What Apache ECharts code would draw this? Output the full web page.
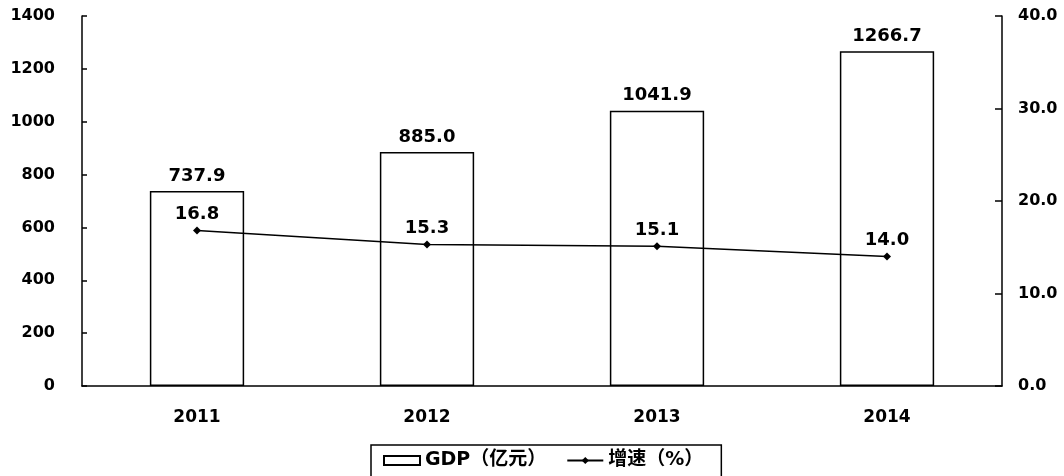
<!DOCTYPE html>
<html>
<head>
<meta charset="utf-8">
<script src="https://cdn.jsdelivr.net/npm/echarts@6/dist/echarts.min.js"></script>
<style>html,body{margin:0;padding:0;background:#fff}#c{width:1064px;height:476px}</style>
</head>
<body>
<div id="c"></div>
<script>
var categories = ['2011', '2012', '2013', '2014'];
var gdpValues = [737.9, 885.0, 1041.9, 1266.7];
var growthValues = [16.8, 15.3, 15.1, 14.0];
var seriesNames = ['GDP（亿元）', '增速（%）'];

var FONT = '"DejaVu Sans", "Noto Sans CJK SC", sans-serif';
var chart = echarts.init(document.getElementById('c'), null, {renderer: 'canvas'});
chart.setOption({
  animation: false,
  backgroundColor: '#fff',
  grid: {left: 82, right: 62, top: 16, bottom: 90, containLabel: false},
  legend: {
    data: [{name: seriesNames[0], icon: 'rect'}, {name: seriesNames[1]}],
    left: 371, top: 445,
    padding: [6, 18, 10, 12],
    itemGap: 20,
    itemWidth: 36, itemHeight: 9,
    borderColor: '#000', borderWidth: 1.5,
    textStyle: {fontFamily: FONT, fontWeight: 'bold', fontSize: 19, color: '#000'}
  },
  xAxis: {
    type: 'category',
    data: categories,
    axisLine: {lineStyle: {color: '#000', width: 1.5}},
    axisTick: {show: false},
    axisLabel: {color: '#000', fontFamily: FONT, fontWeight: 'bold', fontSize: 17, margin: 23}
  },
  yAxis: [{
    type: 'value', min: 0, max: 1400, interval: 200,
    axisLine: {show: true, lineStyle: {color: '#000', width: 1.5}},
    axisTick: {show: true, inside: true, length: 5, lineStyle: {color: '#000', width: 1.5}},
    splitLine: {show: false},
    axisLabel: {color: '#000', fontFamily: FONT, fontWeight: 'bold', fontSize: 16, margin: 27,
      formatter: function (v) { return String(v); }}
  }, {
    type: 'value', min: 0, max: 40, interval: 10,
    axisLine: {show: true, lineStyle: {color: '#000', width: 1.5}},
    axisTick: {show: true, inside: true, length: 7, lineStyle: {color: '#000', width: 1.5}},
    splitLine: {show: false},
    axisLabel: {color: '#000', fontFamily: FONT, fontWeight: 'bold', fontSize: 16, margin: 16,
      formatter: function (v) { return v.toFixed(1); }}
  }],
  series: [{
    name: seriesNames[0],
    type: 'bar',
    data: gdpValues,
    barWidth: '41%',
    itemStyle: {color: '#fff', borderColor: '#000', borderWidth: 1.5},
    label: {show: true, position: 'top', distance: 6, color: '#000', fontFamily: FONT, fontWeight: 'bold', fontSize: 18,
      formatter: function (p) { return p.value.toFixed(1); }}
  }, {
    name: seriesNames[1],
    type: 'line',
    yAxisIndex: 1,
    data: growthValues,
    symbol: 'diamond', symbolSize: 8,
    lineStyle: {color: '#000', width: 1.5},
    itemStyle: {color: '#000'},
    label: {show: true, position: 'top', distance: 3, color: '#000', fontFamily: FONT, fontWeight: 'bold', fontSize: 18,
      formatter: function (p) { return p.value.toFixed(1); }}
  }]
});
</script>
</body>
</html>
